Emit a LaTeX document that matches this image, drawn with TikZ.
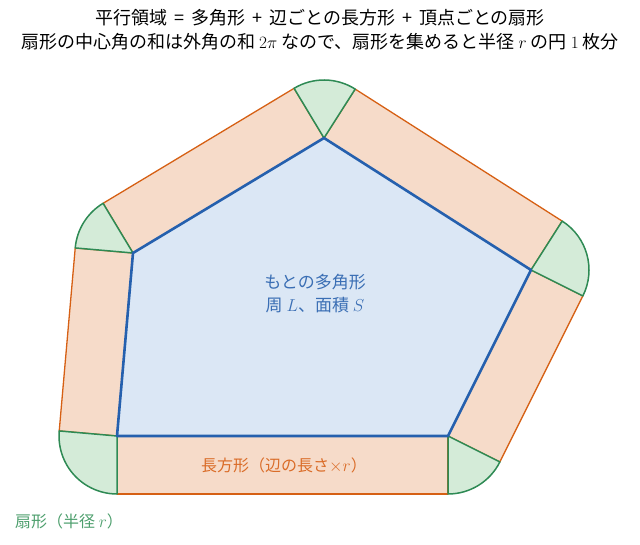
\documentclass[tikz,border=0pt]{standalone}
\usepackage{fontspec}
\newfontfamily\jp{Noto Sans CJK JP}
\usetikzlibrary{calc}
\definecolor{polyblue}{RGB}{37,96,174}
\definecolor{polyfill}{RGB}{219,231,245}
\definecolor{rectorange}{RGB}{214,96,20}
\definecolor{rectfill}{RGB}{246,219,201}
\definecolor{secgreen}{RGB}{46,138,84}
\definecolor{secfill}{RGB}{212,235,216}
\definecolor{txtblue}{RGB}{58,110,180}
\definecolor{txtorange}{RGB}{218,108,40}
\definecolor{txtgreen}{RGB}{76,158,108}
\tikzset{
  rectpart/.style={fill=rectfill, draw=rectorange, line width=1.3pt, line join=round},
  sectorpart/.style={fill=secfill, draw=secgreen, line width=1.5pt, line join=round},
  polypart/.style={fill=polyfill, draw=polyblue, line width=2.6pt, line join=round},
  titletext/.style={font=\jp\fontsize{18}{24}\selectfont, text=black, inner sep=0pt},
  centertext/.style={font=\jp\fontsize{17}{23}\selectfont, inner sep=0pt, align=center},
  labeltext/.style={font=\jp\fontsize{16}{22}\selectfont, inner sep=0pt, align=center}
}
\begin{document}
\begin{tikzpicture}[x=1pt,y=1pt]
\useasboundingbox (0,0) rectangle (640,545);
\coordinate (A) at (324,407);
\coordinate (E) at (531,275);
\coordinate (D) at (448,109);
\coordinate (C) at (117,109);
\coordinate (B) at (133,292);
\def\rr{58pt}
% rectangles
\path[rectpart] (A) -- ++(57.47:\rr) -- ($(E)+(57.47:\rr)$) -- (E) -- cycle;
\path[rectpart] (E) -- ++(-26.57:\rr) -- ($(D)+(-26.57:\rr)$) -- (D) -- cycle;
\path[rectpart] (D) -- ++(-90:\rr) -- ($(C)+(-90:\rr)$) -- (C) -- cycle;
\path[rectpart] (C) -- ++(175.0:\rr) -- ($(B)+(175.0:\rr)$) -- (B) -- cycle;
\path[rectpart] (B) -- ++(121.06:\rr) -- ($(A)+(121.06:\rr)$) -- (A) -- cycle;
% sectors
\path[sectorpart] (A) -- ++(121.06:\rr) arc[start angle=121.06, end angle=57.47, radius=\rr] -- cycle;
\path[sectorpart] (E) -- ++(57.47:\rr) arc[start angle=57.47, end angle=-26.57, radius=\rr] -- cycle;
\path[sectorpart] (D) -- ++(-26.57:\rr) arc[start angle=-26.57, end angle=-90, radius=\rr] -- cycle;
\path[sectorpart] (C) -- ++(-90:\rr) arc[start angle=-90, end angle=-185.0, radius=\rr] -- cycle;
\path[sectorpart] (B) -- ++(175.0:\rr) arc[start angle=175.0, end angle=121.06, radius=\rr] -- cycle;
% polygon
\path[polypart] (A) -- (E) -- (D) -- (C) -- (B) -- cycle;
% texts
\node[titletext] (t1) at (320,527) {平行領域 \,=\, 多角形 \,+\, 辺ごとの長方形 \,+\, 頂点ごとの扇形};
\node[titletext] (t2) at (320,503) {扇形の中心角の和は外角の和 $2\pi$ なので、扇形を集めると半径 $r$ の円 $1$ 枚分};
\node[centertext, text=txtblue] (polylab) at (315,251) {もとの多角形\\周 $L$、面積 $S$};
\node[labeltext, text=txtorange] (rectlab) at (284,80) {長方形（辺の長さ$\times r$）};
\node[labeltext, text=txtgreen, anchor=west] (seclab) at (15,24) {扇形（半径 $r$）};
\end{tikzpicture}
\end{document}
